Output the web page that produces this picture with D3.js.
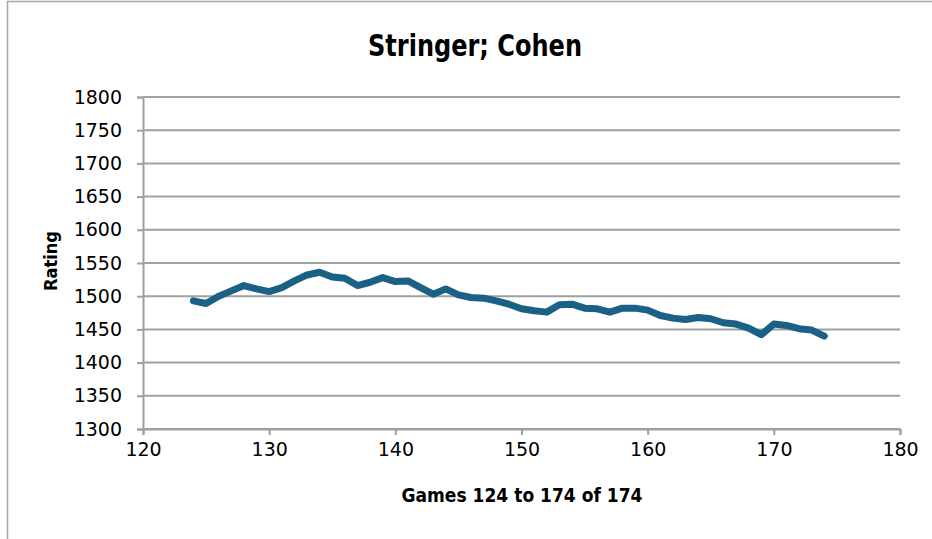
<!DOCTYPE html>
<html>
<head>
<meta charset="utf-8">
<script src="https://cdn.jsdelivr.net/npm/d3@7"></script>
<style>
  body { margin: 0; background: #fff; }
  svg text { font-family: "DejaVu Sans", "Liberation Sans", sans-serif; fill: #000; }
</style>
</head>
<body>
<svg width="932" height="539"></svg>
<script>
// game numbers and ratings
var games = d3.range(124, 175);
var ratings = [1493, 1489, 1500, 1508, 1516, 1511, 1507, 1513, 1523, 1532,
  1536, 1529, 1527, 1516, 1521, 1528, 1522, 1523, 1513, 1503,
  1511, 1502, 1498, 1497, 1493, 1488, 1481, 1478, 1476, 1487,
  1488, 1482, 1481, 1476, 1482, 1482, 1479, 1471, 1467, 1465,
  1468, 1466, 1460, 1458, 1452, 1442, 1458, 1456, 1451, 1449, 1440];
var xTicks = [120, 130, 140, 150, 160, 170, 180];
var yTicks = [1300, 1350, 1400, 1450, 1500, 1550, 1600, 1650, 1700, 1750, 1800];

var svg = d3.select("svg");

// chart border
svg.append("rect")
    .attr("x", 7.5).attr("y", 1.5)
    .attr("width", 940).attr("height", 560)
    .attr("fill", "none").attr("stroke", "#a6a6a6").attr("stroke-width", 1.5);

var x = d3.scaleLinear().domain([120, 180]).range([143, 900]);
var y = d3.scaleLinear().domain([1300, 1800]).range([429, 97]);

// gridlines
svg.append("g").selectAll("line")
    .data(yTicks)
    .enter().append("line")
    .attr("x1", x(120)).attr("x2", x(180))
    .attr("y1", d => y(d)).attr("y2", d => y(d))
    .attr("stroke", "#a0a0a0").attr("stroke-width", 2);

// axes
var xAxis = svg.append("g")
    .attr("transform", "translate(0," + y(1300) + ")")
    .call(d3.axisBottom(x).tickValues(xTicks).tickFormat(d3.format("d")).tickSize(6).tickPadding(8));
var yAxis = svg.append("g")
    .attr("transform", "translate(" + x(120) + ",0)")
    .call(d3.axisLeft(y).tickValues(yTicks).tickFormat(d3.format("d")).tickSize(6).tickPadding(15));

[xAxis, yAxis].forEach(a => {
    a.attr("font-family", null).attr("font-size", null);
    a.select(".domain").attr("stroke", "#a0a0a0").attr("stroke-width", 2);
    a.selectAll(".tick line").attr("stroke", "#a0a0a0").attr("stroke-width", 2);
    a.selectAll(".tick text").style("font-size", "19px").attr("fill", "#000");
});

// the line
var line = d3.line()
    .x((d, i) => x(games[i]))
    .y(d => y(d));
svg.append("path")
    .datum(ratings)
    .attr("d", line)
    .attr("fill", "none")
    .attr("stroke", "#1b6186")
    .attr("stroke-width", 7)
    .attr("stroke-linejoin", "round")
    .attr("stroke-linecap", "round");

// titles
svg.append("text")
    .attr("x", 475).attr("y", 56)
    .attr("text-anchor", "middle")
    .style("font-size", "31px").attr("font-weight", "bold")
    .attr("textLength", 214).attr("lengthAdjust", "spacingAndGlyphs")
    .text("Stringer; Cohen");

svg.append("text")
    .attr("x", 522).attr("y", 502)
    .attr("text-anchor", "middle")
    .style("font-size", "19px").attr("font-weight", "bold")
    .attr("textLength", 241).attr("lengthAdjust", "spacingAndGlyphs")
    .text("Games 124 to 174 of 174");

svg.append("text")
    .attr("transform", "translate(57,261) rotate(-90)")
    .attr("text-anchor", "middle")
    .style("font-size", "18px").attr("font-weight", "bold")
    .attr("textLength", 60).attr("lengthAdjust", "spacingAndGlyphs")
    .text("Rating");
</script>
</body>
</html>
